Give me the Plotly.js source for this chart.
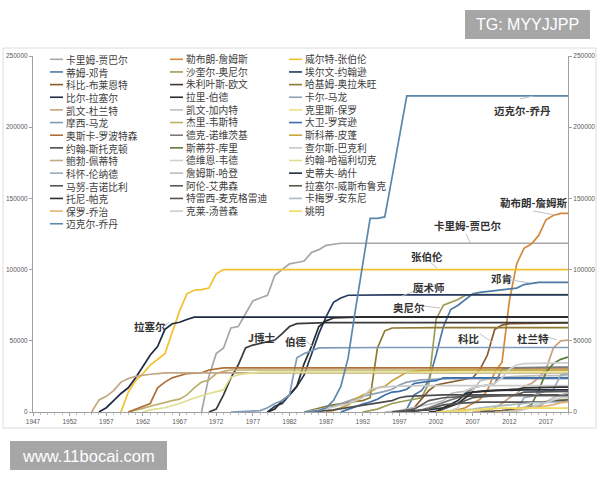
<!DOCTYPE html>
<html><head><meta charset="utf-8">
<script src="https://cdn.plot.ly/plotly-3.0.1.min.js"></script>
<style>html,body{margin:0;padding:0;background:#fff;}#chart{width:600px;height:480px;}</style>
</head><body><div id="chart"></div>
<script>
// ---------- DATA ----------
const names = ["卡里姆-贾巴尔","勒布朗-詹姆斯","威尔特-张伯伦","蒂姆-邓肯","沙奎尔-奥尼尔","埃尔文-约翰逊",
"科比-布莱恩特","朱利叶斯-欧文","哈基姆-奥拉朱旺","比尔-拉塞尔","拉里-伯德","卡尔-马龙",
"凯文-杜兰特","凯文-加内特","克里斯-保罗","摩西-马龙","杰里-韦斯特","大卫-罗宾逊",
"奥斯卡-罗波特森","德克-诺维茨基","斯科蒂-皮蓬","约翰-斯托克顿","斯蒂芬-库里","查尔斯-巴克利",
"鲍勃-佩蒂特","德维恩-韦德","约翰-哈福利切克","科怀-伦纳德","詹姆斯-哈登","史蒂夫-纳什",
"马努-吉诺比利","阿伦-艾弗森","拉塞尔-威斯布鲁克","托尼-帕克","特雷西-麦克格雷迪","卡梅罗-安东尼",
"保罗-乔治","克莱-汤普森","姚明","迈克尔-乔丹"];

const colors = ["#a6a6a6","#d4883a","#f2c12e","#4e79a5","#9c9c55","#253a5e",
"#8b5a2b","#3a3a3a","#8c7a2e","#1f2a44","#2b2b2b","#8fa1b3",
"#c9a27e","#bdbdbd","#efdf85","#7f9bb9","#bfae6a","#3c6fa9",
"#b0703a","#7b7b7b","#c8a43c","#4d4d4d","#5f7a3a","#c9c9c9",
"#c3a785","#cfcfcf","#dfde8c","#9aabb9","#bcbcbc","#1f2d3d",
"#555555","#5a5a5a","#5c5a45","#303030","#555555","#a9bccb",
"#e6b46f","#cccccc","#f0dc5a","#5a87aa"];

const jabbar = [[1970,0],[1971,25000],[1972,41000],[1973,45000],[1974,59000],[1975,60000],[1976,69000],[1977,78000],[1978,80000],[1979,82000],[1980,96000],[1981,100000],[1982,104000],[1983,105000],[1984,106000],[1985,112000],[1986,114000],[1987,117000],[1988,118000],[1989,118500],[2020,118500]];
const lebron = [[2003,0],[2004,500],[2005,1500],[2006,3000],[2007,6000],[2008,9000],[2009,15000],[2010,28000],[2011,35000],[2012,78000],[2013,104000],[2014,115000],[2015,118000],[2016,124000],[2017,135000],[2018,138000],[2019,139500],[2020,139500]];
const chamberlain = [[1959,0],[1960,14000],[1961,22000],[1962,27000],[1963,33000],[1964,37000],[1965,41000],[1966,56000],[1967,71000],[1968,83000],[1969,85500],[1970,86000],[1971,87000],[1972,97000],[1973,100000],[2020,100000]];
const duncan = [[1997,0],[1998,2000],[1999,12000],[2000,15000],[2001,22000],[2002,40000],[2003,60000],[2004,72000],[2005,75000],[2006,79000],[2007,83000],[2008,84000],[2010,85000],[2012,86000],[2013,87000],[2014,89500],[2015,90500],[2016,91000],[2020,91000]];
const shaq = [[1992,0],[1993,1000],[1994,2000],[1995,4000],[1996,6000],[1997,7000],[1998,8000],[1999,9000],[2000,10000],[2001,20000],[2002,65000],[2003,75000],[2004,77000],[2005,79000],[2006,82000],[2007,82500],[2020,82500]];
const magic = [[1979,0],[1980,4000],[1981,6000],[1982,12000],[1983,18000],[1984,26000],[1985,40000],[1986,55000],[1987,67000],[1988,77000],[1989,80000],[1990,82000],[1996,82300],[2020,82300]];
const kobe = [[1996,0],[1997,500],[1998,1500],[1999,3000],[2000,9000],[2001,15000],[2002,19000],[2003,20000],[2004,21000],[2005,21500],[2006,22500],[2007,24000],[2008,30000],[2009,40000],[2010,58000],[2011,61000],[2012,62000],[2016,62500],[2020,62500]];
const erving = [[1971,0],[1972,2000],[1973,12000],[1974,24000],[1975,33000],[1976,45000],[1977,47000],[1978,48000],[1979,49000],[1980,50500],[1981,55000],[1982,60000],[1983,62000],[1987,62800],[2020,62800]];
const hakeem = [[1984,0],[1985,1500],[1986,3000],[1987,4000],[1988,5000],[1989,6000],[1990,7000],[1991,7500],[1992,8000],[1993,10000],[1994,45000],[1995,57000],[1996,59000],[2002,59200],[2020,59200]];
const russell = [[1956,0],[1957,3000],[1958,8000],[1959,13000],[1960,17000],[1961,24000],[1962,32000],[1963,40000],[1964,46000],[1965,58000],[1966,62000],[1967,63000],[1968,65000],[1969,66600],[2020,66600]];
const bird = [[1979,0],[1980,2000],[1981,8000],[1982,12000],[1983,18000],[1984,34000],[1985,46000],[1986,60000],[1987,64000],[1988,66000],[1992,66800],[2020,66800]];
const karlMalone = [[1985,0],[1986,1000],[1987,2500],[1988,4000],[1989,6000],[1990,8000],[1991,9500],[1992,11000],[1993,12000],[1994,13000],[1995,14500],[1996,16000],[1997,19000],[1998,21000],[1999,22000],[2000,22500],[2004,23500],[2020,23500]];
const durant = [[2007,0],[2008,300],[2009,1000],[2010,3000],[2011,6000],[2012,10000],[2013,13000],[2014,18000],[2015,20000],[2016,24000],[2017,30000],[2018,45000],[2019,50000],[2020,50500]];
const garnett = [[1995,0],[1996,300],[1997,1000],[1998,2000],[1999,3000],[2000,4000],[2001,5000],[2002,6500],[2003,8000],[2004,13000],[2005,14000],[2006,14500],[2007,15000],[2008,22000],[2009,23000],[2010,24000],[2013,25000],[2016,25500],[2020,25500]];
const chrisPaul = [[2005,0],[2006,500],[2008,2500],[2009,3500],[2012,5000],[2015,6500],[2018,8000],[2020,9000]];
const moses = [[1974,0],[1976,300],[1977,500],[1978,1000],[1979,3000],[1980,6000],[1981,8000],[1982,12000],[1983,38000],[1984,41000],[1985,43000],[1986,45000],[1995,45300],[2020,45300]];
const west = [[1960,0],[1961,1000],[1962,2500],[1963,4000],[1964,5500],[1965,6500],[1966,8000],[1967,9000],[1968,12000],[1969,17000],[1970,21000],[1971,22500],[1972,27000],[1973,28500],[1974,29500],[2020,29500]];
const robinson = [[1989,0],[1990,2000],[1991,4000],[1992,5500],[1993,7000],[1994,9000],[1995,12000],[1996,14000],[1997,14500],[1998,16000],[1999,20000],[2000,21000],[2001,21500],[2002,22000],[2003,24000],[2020,24000]];
const oscar = [[1960,0],[1961,2000],[1962,4000],[1963,6000],[1964,17000],[1965,21000],[1966,24000],[1967,25500],[1968,27000],[1969,27200],[1970,27500],[1971,29500],[1972,30000],[1973,31000],[2020,31000]];
const dirk = [[1998,0],[1999,500],[2000,1500],[2001,3000],[2002,5000],[2003,7000],[2004,8500],[2005,10000],[2006,13000],[2007,17000],[2008,18000],[2009,19000],[2010,20000],[2011,30000],[2012,31000],[2019,31500],[2020,31500]];
const pippen = [[1987,0],[1988,1000],[1989,3000],[1990,5000],[1991,9000],[1992,12000],[1993,14000],[1994,17000],[1995,18000],[1996,22000],[1997,25000],[1998,28000],[1999,28500],[2000,29000],[2004,29500],[2020,29500]];
const stockton = [[1984,0],[1985,200],[1986,500],[1988,1500],[1990,3000],[1992,4500],[1994,6000],[1996,8000],[1997,10000],[1998,11000],[2003,12000],[2020,12000]];
const curry = [[2009,0],[2010,300],[2011,500],[2012,800],[2013,1500],[2014,3000],[2015,5000],[2016,15000],[2017,28000],[2018,34000],[2019,37000],[2020,38500]];
const barkley = [[1984,0],[1985,500],[1986,1500],[1988,3500],[1990,6000],[1991,8000],[1992,10000],[1993,16000],[1994,17000],[1996,18000],[2000,18500],[2020,18500]];
const pettit = [[1955,0],[1956,8500],[1957,11000],[1958,15000],[1959,21000],[1960,23500],[1961,25000],[1962,26000],[1963,26500],[1964,27000],[1965,27500],[2020,27500]];
const wade = [[2003,0],[2004,1000],[2005,3000],[2006,15000],[2007,17000],[2008,18000],[2010,20000],[2011,24000],[2012,30000],[2013,33000],[2014,34000],[2019,34500],[2020,34500]];
const havlicek = [[1962,0],[1963,1500],[1965,3000],[1967,6000],[1969,9800],[1971,13000],[1973,15500],[1974,24500],[1975,26000],[1976,27000],[1978,28000],[2020,28000]];
const kawhi = [[2011,0],[2012,500],[2013,2000],[2014,10000],[2015,11000],[2016,13000],[2017,15000],[2018,15500],[2019,26000],[2020,27000]];
const harden = [[2009,0],[2010,300],[2012,1500],[2014,3000],[2016,5000],[2017,7000],[2018,10000],[2019,12000],[2020,13500]];
const nash = [[1996,0],[1997,200],[1999,800],[2001,1500],[2003,3000],[2005,8000],[2006,13000],[2007,14000],[2010,15000],[2014,15500],[2020,15500]];
const ginobili = [[2002,0],[2003,2000],[2005,6000],[2007,10000],[2009,11000],[2013,12000],[2014,14000],[2018,14500],[2020,14500]];
const iverson = [[1996,0],[1997,500],[1999,2000],[2001,8000],[2003,10000],[2006,11000],[2010,11500],[2020,11500]];
const westbrook = [[2008,0],[2009,200],[2011,1000],[2013,2000],[2015,3000],[2016,4000],[2017,7000],[2018,8000],[2020,8500]];
const parker = [[2001,0],[2002,500],[2003,3000],[2005,6000],[2007,14000],[2009,15000],[2013,16000],[2014,17000],[2019,17500],[2020,17500]];
const mcgrady = [[1997,0],[1999,500],[2001,2000],[2003,5000],[2005,6000],[2008,7000],[2020,7000]];
const carmelo = [[2003,0],[2005,800],[2007,2000],[2009,3500],[2011,4500],[2013,6000],[2015,6500],[2020,7000]];
const george = [[2010,0],[2012,500],[2013,1500],[2014,3000],[2016,3500],[2018,5000],[2019,6500],[2020,7000]];
const klay = [[2011,0],[2013,500],[2015,3000],[2016,4500],[2017,6500],[2018,8500],[2019,10000],[2020,10000]];
const yao = [[2002,0],[2003,300],[2005,1000],[2007,2000],[2009,2500],[2011,2700],[2020,2700]];
const jordan = [[1984,0],[1985,500],[1986,1000],[1987,3000],[1988,8000],[1989,18000],[1990,38000],[1991,72000],[1992,105000],[1993,136000],[1994,136000],[1995,137000],[1996,165000],[1997,195000],[1998,222000],[2020,222000]];

const seriesList = [jabbar,lebron,chamberlain,duncan,shaq,magic,kobe,erving,hakeem,russell,bird,karlMalone,
durant,garnett,chrisPaul,moses,west,robinson,oscar,dirk,pippen,stockton,curry,barkley,pettit,wade,havlicek,
kawhi,harden,nash,ginobili,iverson,westbrook,parker,mcgrady,carmelo,george,klay,yao,jordan];

const xTickVals = [1947,1952,1957,1962,1967,1972,1977,1982,1987,1992,1997,2002,2007,2012,2017];
const yTickVals = [0,50000,100000,150000,200000,250000];

const calloutTexts = ["迈克尔-乔丹","勒布朗-詹姆斯","卡里姆-贾巴尔","张伯伦","邓肯","魔术师","奥尼尔","拉塞尔","J博士","伯德","科比","杜兰特"];
const watermarkTop = "TG: MYYJJPP";
const watermarkBottom = "www.11bocai.com";

// ---------- LAYOUT HELPERS ----------
const L = 33, R = 32, T = 56, B = 68, W = 600, H = 480;
const pw = W - L - R, ph = H - T - B;
const px = v => (v - L) / pw;
const py = v => (H - B - v) / ph;

const traces = seriesList.map((d, i) => ({
  x: d.map(p => p[0]), y: d.map(p => p[1]),
  type: 'scatter', mode: 'lines', name: names[i],
  line: {color: colors[i], width: 1.7},
  showlegend: false, hoverinfo: 'skip'
}));
traces.push({x: [1947, 2020], y: [0, 0], yaxis: 'y2', mode: 'lines', line: {width: 0, color: 'rgba(0,0,0,0)'}, showlegend: false, hoverinfo: 'skip'});

const shapes = [];
const annotations = [];
const font = '"Noto Sans CJK SC", "Noto Sans", sans-serif';

// frame
shapes.push({type: 'rect', xref: 'paper', yref: 'paper', x0: px(3), x1: px(596), y0: py(48), y1: py(428), line: {color: '#dcdcdc', width: 1}, layer: 'below'});

// custom legend (3 columns, row-major): samples as short lines, text as one multi-line block per column
const colX = [50, 170, 289];
const rowStep = 12.65, row0 = 59.3;
const colTexts = [[], [], []];
names.forEach((n, k) => {
  const row = Math.floor(k / 3), col = k % 3;
  const yy = row0 + row * rowStep;
  shapes.push({type: 'line', xref: 'paper', yref: 'paper', x0: px(colX[col]), x1: px(colX[col] + 13), y0: py(yy), y1: py(yy), line: {color: colors[k], width: 1.6}});
  colTexts[col].push(n);
});
colTexts.forEach((lines, col) => {
  const centerY = row0 + (lines.length - 1) * rowStep / 2;
  annotations.push({xref: 'paper', yref: 'paper', x: px(colX[col] + 15), y: py(centerY), text: lines.join('<br>'),
    showarrow: false, xanchor: 'left', yanchor: 'middle', align: 'left', borderpad: 0,
    font: {family: font, size: rowStep / 1.3, color: '#404040'}});
});

// callout labels
const calloutPos = [[522,110],[533,202],[467,225],[427,256],[501,278],[429,287],[409,307],[150,326],[261,337],[296,341],[469,338],[533,338]];
const leaders = [[520,99,533,96],[533,211,555,215],[466,234,470,242],[431,263,437,268],[511,280,530,283],[414,291,402,296],[424,306,440,308],[165,326,169,322],null,[306,341,313,347],[480,334,492,342],[548,337,557,340]];
calloutTexts.forEach((t, i) => {
  annotations.push({xref: 'paper', yref: 'paper', x: px(calloutPos[i][0]), y: py(calloutPos[i][1]), text: t, showarrow: false, xanchor: 'center', yanchor: 'middle', borderpad: 0, font: {family: font, size: 10.5, color: '#333333', weight: 'bold'}});
  const l = leaders[i];
  if (l) shapes.push({type: 'line', xref: 'paper', yref: 'paper', x0: px(l[0]), y0: py(l[1]), x1: px(l[2]), y1: py(l[3]), line: {color: '#c0c0c0', width: 1}});
});

// watermarks
shapes.push({type: 'rect', xref: 'paper', yref: 'paper', x0: px(465), x1: px(590), y0: py(10), y1: py(39), fillcolor: '#a6a6a6', line: {width: 0}});
annotations.push({xref: 'paper', yref: 'paper', x: px(527.5), y: py(24.5), text: watermarkTop, showarrow: false, xanchor: 'center', yanchor: 'middle', font: {family: '"Liberation Sans", Arial, sans-serif', size: 16, color: '#ffffff'}});
shapes.push({type: 'rect', xref: 'paper', yref: 'paper', x0: px(10), x1: px(167), y0: py(441), y1: py(470), fillcolor: '#a6a6a6', line: {width: 0}});
annotations.push({xref: 'paper', yref: 'paper', x: px(88.5), y: py(455.5), text: watermarkBottom, showarrow: false, xanchor: 'center', yanchor: 'middle', font: {family: '"Liberation Sans", Arial, sans-serif', size: 16.5, color: '#ffffff'}});

const axisCommon = {
  range: [0, 250000], tickvals: yTickVals, tickformat: 'd', showgrid: false, zeroline: false,
  showline: true, linecolor: '#a0a0a0', linewidth: 1, ticks: 'outside', ticklen: 3, tickcolor: '#a0a0a0',
  tickfont: {family: '"Liberation Sans", Arial, sans-serif', size: 6.5, color: '#595959'}, fixedrange: true
};

const layout = {
  width: W, height: H, margin: {l: L, r: R, t: T, b: B},
  paper_bgcolor: '#ffffff', plot_bgcolor: '#ffffff', showlegend: false,
  xaxis: {range: [1947, 2020], tickvals: xTickVals, showgrid: false, zeroline: false, showline: true,
    linecolor: '#a0a0a0', linewidth: 1, ticks: 'outside', ticklen: 3, tickcolor: '#a0a0a0',
    minor: {tickmode: 'linear', tick0: 1947, dtick: 1, ticks: 'outside', ticklen: 2, tickcolor: '#c0c0c0'},
    tickfont: {family: '"Liberation Sans", Arial, sans-serif', size: 6.5, color: '#595959'}, fixedrange: true},
  yaxis: Object.assign({}, axisCommon, {side: 'left'}),
  yaxis2: Object.assign({}, axisCommon, {side: 'right', overlaying: 'y', anchor: 'x'}),
  shapes: shapes, annotations: annotations
};

Plotly.newPlot('chart', traces, layout, {displayModeBar: false, staticPlot: true});
</script></body></html>
